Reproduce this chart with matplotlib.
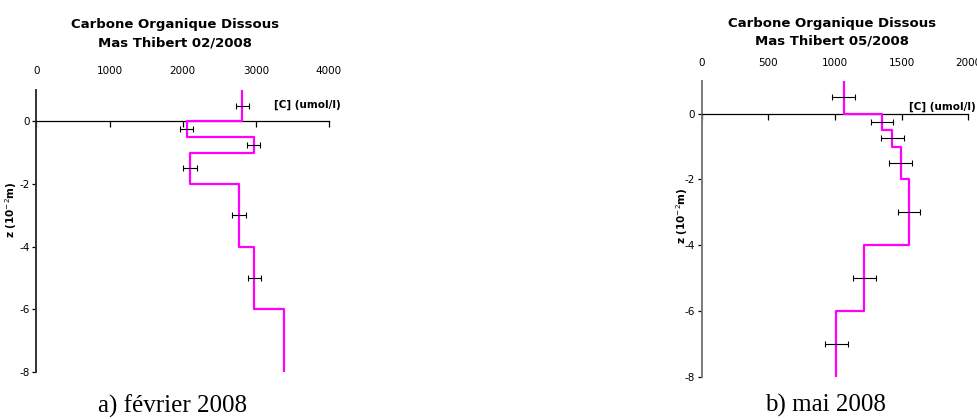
import numpy as np
import matplotlib
matplotlib.use("Agg")
import matplotlib.pyplot as plt

plt.rcParams["axes.unicode_minus"] = False

# depth of layer boundaries (10^-2 m) and concentration per layer (umol/l)
feb_bounds = [1, 0, -0.5, -1, -2, -4, -6, -8]
feb_values = [2815, 2055, 2970, 2100, 2770, 2980, 3380]
feb_depths = [0.5, -0.25, -0.75, -1.5, -3, -5]
feb_points = [2815, 2055, 2970, 2100, 2770, 2980]
feb_err = [90, 90, 90, 90, 90, 90]

mai_bounds = [1, 0, -0.5, -1, -2, -4, -6, -8]
mai_values = [1065, 1352, 1430, 1493, 1555, 1220, 1010]
mai_depths = [0.5, -0.25, -0.75, -1.5, -3, -5, -7]
mai_points = [1065, 1352, 1430, 1493, 1555, 1220, 1010]
mai_err = [85, 85, 85, 85, 85, 85, 85]

feb_xticks = [0, 1000, 2000, 3000, 4000]
mai_xticks = [0, 500, 1000, 1500, 2000]
yticks = [0, -2, -4, -6, -8]

sans = "DejaVu Sans"
serif = "Liberation Serif"


def profile(ax, bounds, values, depths, points, err, xticks, spine_col,
            tick_pad, ylab_xy, unit_xy):
    xs = np.repeat(values, 2)
    ys = np.column_stack([bounds[:-1], bounds[1:]]).ravel()
    ax.plot(xs, ys, color="#ff00ff", lw=1.6, zorder=3)
    ax.errorbar(points, depths, xerr=err, fmt="none", ecolor="black",
                elinewidth=0.8, capsize=2.5, capthick=0.8, zorder=4)
    ax.set_xlim(xticks[0], xticks[-1])
    ax.set_ylim(-8, 1)
    ax.set_xticks(xticks)
    ax.set_yticks(yticks)
    ax.spines["top"].set_visible(False)
    ax.spines["right"].set_visible(False)
    ax.spines["bottom"].set_position(("data", 0))
    ax.spines["bottom"].set_linewidth(0.9)
    ax.spines["left"].set_color(spine_col)
    ax.spines["left"].set_linewidth(1.4)
    ax.tick_params(axis="x", bottom=True, top=False, labelbottom=False,
                   labeltop=True, direction="out", length=4, width=0.9,
                   labelsize=7.5, pad=tick_pad)
    ax.tick_params(axis="y", direction="out", length=3, width=0.9,
                   labelsize=7.5, pad=2)
    for lab in ax.get_xticklabels() + ax.get_yticklabels():
        lab.set_family(sans)
    ax.set_ylabel("z (10$^{-2}$m)", fontsize=7.5, fontweight="bold",
                  family=sans)
    ax.yaxis.set_label_coords(*ylab_xy)
    ax.text(unit_xy[0], unit_xy[1], "[C] (umol/l)",
            transform=ax.get_yaxis_transform(), ha="left", va="center",
            fontsize=7.5, fontweight="bold", family=sans, clip_on=False)


fig = plt.figure(figsize=(9.78, 4.19), dpi=100)
ax1 = fig.add_axes([0.0373, 0.1122, 0.2991, 0.673])
ax2 = fig.add_axes([0.7175, 0.1014, 0.2726, 0.7053])

profile(ax1, feb_bounds, feb_values, feb_depths, feb_points, feb_err,
        feb_xticks, "#333333", 6, (-0.06, 0.574), (0.812, 0.52))
profile(ax2, mai_bounds, mai_values, mai_depths, mai_points, mai_err,
        mai_xticks, "#7a7a7a", 5, (-0.044, 0.543), (0.778, 0.21))

fig.text(175 / 978, 1 - 34 / 419, "Carbone Organique Dissous\nMas Thibert 02/2008",
         ha="center", va="center", fontsize=9.5, fontweight="bold",
         family=sans, linespacing=1.55)
fig.text(832 / 978, 1 - 32 / 419, "Carbone Organique Dissous\nMas Thibert 05/2008",
         ha="center", va="center", fontsize=9.5, fontweight="bold",
         family=sans, linespacing=1.4)

fig.text(173 / 978, 6 / 419, "a) février 2008", ha="center", va="baseline",
         fontsize=18, family=serif)
fig.text(825 / 978, 7 / 419, "b) mai 2008", ha="center", va="baseline",
         fontsize=18, family=serif)

fig.savefig("out.png", dpi=100)
